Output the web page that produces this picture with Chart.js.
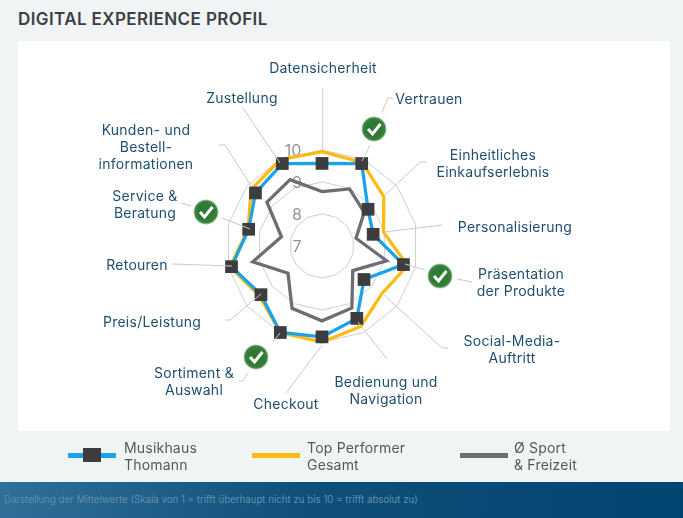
<!DOCTYPE html>
<html lang="de">
<head>
<meta charset="utf-8">
<title>Digital Experience Profil</title>
<script src="https://cdn.jsdelivr.net/npm/chart.js@4"></script>
<style>
  html, body { margin: 0; padding: 0; }
  body { width: 683px; height: 518px; position: relative; overflow: hidden; background: #f1f4f5; font-family: Inter, "Open Sans", sans-serif; }
  h1 { position: absolute; left: 18px; top: 9px; margin: 0; font-size: 17px; line-height: 20px; font-weight: 600; letter-spacing: 0.4px; color: #3c4043; }
  #panel { position: absolute; left: 18px; top: 41px; width: 652px; height: 390px; background: #fff; }
  #chart { position: absolute; left: 0; top: 0; }
  .legend-line { position: absolute; height: 4.5px; width: 48px; top: 453px; }
  .legend-box { position: absolute; width: 18px; height: 14px; left: 83px; top: 448px; background: #3d3d3f; }
  .legend-text { position: absolute; top: 439px; font-size: 14px; line-height: 17px; letter-spacing: 0.2px; color: #55585b; }
  #footer { position: absolute; left: 0; top: 482px; width: 683px; height: 36px; background: linear-gradient(90deg, #2f6f98 0%, #104f7a 45%, #004570 100%); }
  #footer span { position: absolute; left: 4px; top: 11px; font-size: 9.7px; line-height: 13px; color: #5f8fae; white-space: nowrap; }
</style>
</head>
<body>
<h1>DIGITAL EXPERIENCE PROFIL</h1>
<div id="panel"></div>
<canvas id="chart" width="683" height="518"></canvas>

<div class="legend-line" style="left:68px;background:#1aa3e8"></div>
<div class="legend-box"></div>
<div class="legend-text" style="left:124px">Musikhaus<br>Thomann</div>
<div class="legend-line" style="left:252px;background:#fdbb13"></div>
<div class="legend-text" style="left:307px">Top Performer<br>Gesamt</div>
<div class="legend-line" style="left:460px;background:#6d6e71"></div>
<div class="legend-text" style="left:514px">Ø Sport<br>&amp; Freizeit</div>

<div id="footer"><span>Darstellung der Mittelwerte (Skala von 1 = trifft überhaupt nicht zu bis 10 = trifft absolut zu)</span></div>

<script>
'use strict';

// ***** DATA *****
const categories = [
  ['Datensicherheit'],
  ['Vertrauen'],
  ['Einheitliches', 'Einkaufserlebnis'],
  ['Personalisierung'],
  ['Präsentation', 'der Produkte'],
  ['Social-Media-', 'Auftritt'],
  ['Bedienung und', 'Navigation'],
  ['Checkout'],
  ['Sortiment &', 'Auswahl'],
  ['Preis/Leistung'],
  ['Retouren'],
  ['Service &', 'Beratung'],
  ['Kunden- und', 'Bestell-', 'informationen'],
  ['Zustellung']
];
const thomannValues = [9.58, 9.86, 8.84, 8.64, 9.61, 8.68, 9.51, 9.84, 10.0, 9.44, 9.9, 9.35, 9.66, 9.86];
const topPerformerValues = [9.95, 9.9, 9.47, 8.97, 9.74, 9.39, 9.79, 10.0, 10.0, 9.5, 9.95, 9.37, 9.83, 10.0];
const sportValues = [8.7, 8.98, 8.69, 8.09, 9.07, 8.23, 9.15, 9.34, 9.16, 8.36, 9.22, 8.3, 9.2, 9.3];
const seriesNames = ['Musikhaus Thomann', 'Top Performer Gesamt', 'Ø Sport & Freizeit'];
const tickLabels = [7, 8, 9, 10];

// ***** PICTURE LAYOUT (annotations around the radar) *****
const labelCentres = [
  [323, 69], [429, 100], [493, 156], [515, 228], [521, 275], [512, 342], [386, 383],
  [286, 405], [194, 374], [152, 323], [137, 266], [145, 197], [146, 131], [242, 99]
];
const leaderLines = [
  [[322.7, 149], [322.7, 88]],
  [[362, 161], [370, 145]],
  [[382, 112], [388, 98], [393, 98]],
  [[385, 195], [420, 162], [426, 162]],
  [[384, 232], [442, 225]],
  [[405, 264], [425, 270]],
  [[457, 279], [472, 282]],
  [[384, 295], [442, 348], [448, 348]],
  [[358, 322], [387, 359]],
  [[322, 345], [286, 393]],
  [[280, 333], [273, 342]],
  [[248, 373], [243, 381], [239, 381]],
  [[261, 294], [230, 320], [225, 320]],
  [[232, 266], [172, 264]],
  [[250, 229], [222, 218]],
  [[191, 206], [181, 203]],
  [[251, 186], [225, 145], [219, 145]],
  [[280, 163], [243, 108]]
];
const checkIcons = [[374, 129], [440, 276], [256, 357], [206, 212]];

// ***** PLUGINS *****
const ringLabelsPlugin = {
  id: 'ringLabels',
  beforeDatasetsDraw(chart) {
    const ctx = chart.ctx;
    const scale = chart.scales.r;
    ctx.save();
    ctx.font = '16px Inter, sans-serif';
    ctx.fillStyle = '#969696';
    ctx.textAlign = 'center';
    ctx.textBaseline = 'middle';
    for (let i = 0; i < tickLabels.length; i++) {
      const y = scale.yCenter - scale.getDistanceFromCenterForValue(tickLabels[i]);
      const x = scale.xCenter - (tickLabels[i] === 10 ? 29 : 25);
      ctx.fillText(String(tickLabels[i]), x, y + 1);
    }
    ctx.restore();
  }
};

const annotationsPlugin = {
  id: 'annotations',
  afterDatasetsDraw(chart) {
    const ctx = chart.ctx;
    ctx.save();

    // leader lines
    ctx.strokeStyle = '#c9c9c9';
    ctx.lineWidth = 1;
    for (let i = 0; i < leaderLines.length; i++) {
      ctx.beginPath();
      ctx.moveTo(leaderLines[i][0][0], leaderLines[i][0][1]);
      for (let j = 1; j < leaderLines[i].length; j++) {
        ctx.lineTo(leaderLines[i][j][0], leaderLines[i][j][1]);
      }
      ctx.stroke();
    }

    // green check badges
    for (let i = 0; i < checkIcons.length; i++) {
      const x = checkIcons[i][0];
      const y = checkIcons[i][1];
      const glow = ctx.createRadialGradient(x, y, 8, x, y, 13);
      glow.addColorStop(0, '#2f7a33');
      glow.addColorStop(0.6, '#3c8440');
      glow.addColorStop(1, 'rgba(90,150,90,0)');
      ctx.fillStyle = glow;
      ctx.beginPath();
      ctx.arc(x, y, 13, 0, Math.PI * 2);
      ctx.fill();
      ctx.strokeStyle = '#fff';
      ctx.lineWidth = 3;
      ctx.beginPath();
      ctx.moveTo(x - 6, y);
      ctx.lineTo(x - 1.5, y + 5);
      ctx.lineTo(x + 6.5, y - 5);
      ctx.stroke();
    }

    // category labels
    ctx.font = '14px Inter, sans-serif';
    ctx.letterSpacing = '0.25px';
    ctx.fillStyle = '#1f4f70';
    ctx.textAlign = 'center';
    ctx.textBaseline = 'middle';
    const labels = chart.data.labels;
    for (let i = 0; i < labels.length; i++) {
      for (let j = 0; j < labels[i].length; j++) {
        ctx.fillText(labels[i][j], labelCentres[i][0], labelCentres[i][1] + j * 16.8);
      }
    }
    ctx.restore();
  }
};

// ***** CHART *****
function makeDataset(name, values, color, pointSize) {
  return {
    label: name,
    data: values,
    borderColor: color,
    backgroundColor: 'transparent',
    borderWidth: 3.3,
    borderJoinStyle: 'miter',
    tension: 0,
    fill: false,
    pointStyle: 'rect',
    pointRadius: pointSize,
    pointHoverRadius: pointSize,
    pointBorderWidth: 0,
    pointBackgroundColor: '#3d3d3f'
  };
}

new Chart(document.getElementById('chart').getContext('2d'), {
  type: 'radar',
  data: {
    labels: categories,
    datasets: [
      makeDataset(seriesNames[0], thomannValues, '#1aa3e8', 9),
      makeDataset(seriesNames[1], topPerformerValues, '#fdbb13', 0),
      makeDataset(seriesNames[2], sportValues, '#6d6e71', 0)
    ]
  },
  options: {
    responsive: false,
    animation: false,
    // centres the rings on the reference position
    layout: { padding: { left: 226.7, right: 264.3, top: 150, bottom: 176 } },
    plugins: {
      legend: { display: false },
      title: { display: false },
      tooltip: { enabled: false }
    },
    scales: {
      r: {
        min: 7,
        max: 10,
        ticks: { display: false, stepSize: 1 },
        grid: { color: '#cfcfcf', lineWidth: 1, circular: false },
        angleLines: { display: false },
        pointLabels: { display: false }
      }
    }
  },
  plugins: [ringLabelsPlugin, annotationsPlugin]
});
</script>
</body>
</html>
